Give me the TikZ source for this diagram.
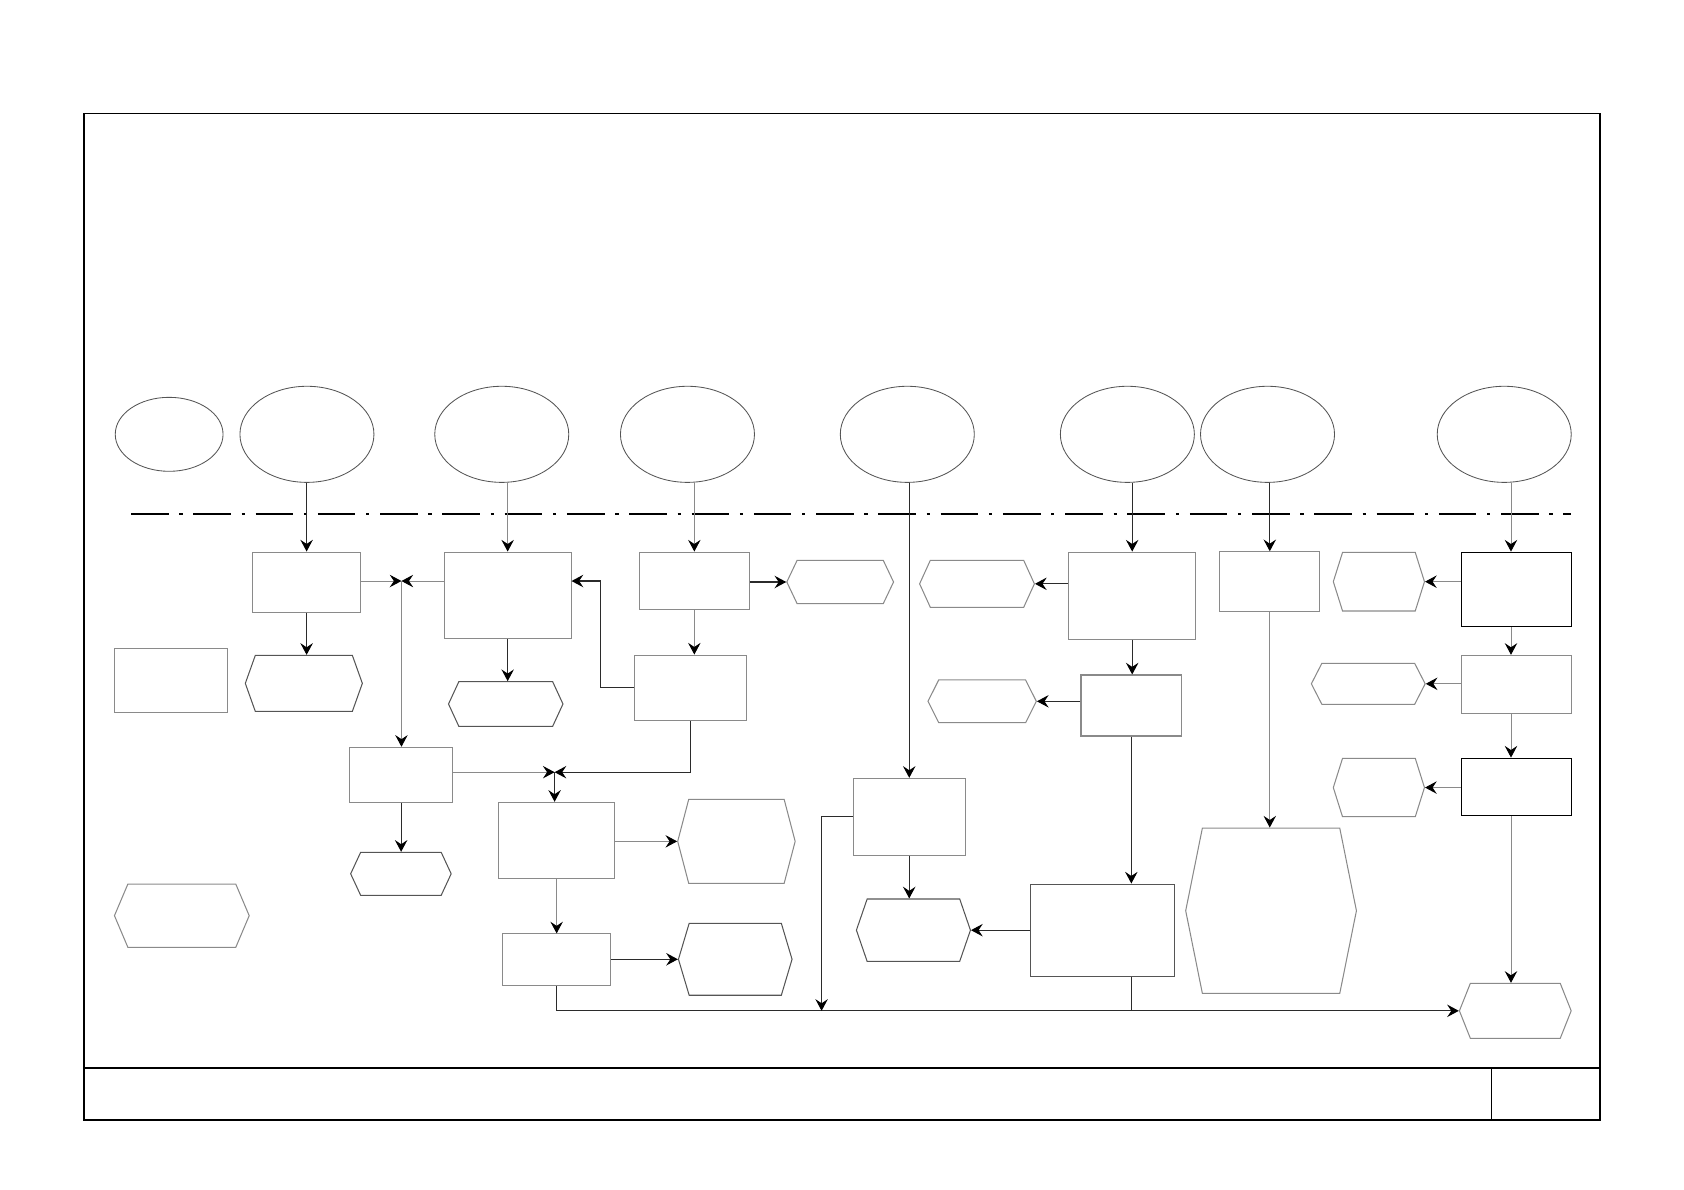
\documentclass[tikz,border=0pt]{standalone}
\usepackage{tikz}
\usetikzlibrary{arrows.meta,positioning,calc,shapes.geometric,shapes.symbols}
\definecolor{tplline}{HTML}{2B2B2B}
\definecolor{tplgray}{HTML}{8A8A8A}
\definecolor{tplrim}{HTML}{555555}

\begin{document}
\begin{tikzpicture}[x=0.02cm, y=-0.02cm, inner sep=0pt,
  >={Stealth[length=6.2pt,width=6.6pt,inset=2.2pt,color=black]},
  evt/.style={draw=tplrim, ellipse, line width=0.45pt, minimum width=2.496cm, minimum height=1.79cm},
  fbox/.style={draw=tplgray, rectangle, line width=0.55pt},
  fboxk/.style={draw=black, rectangle, line width=0.8pt},
  hexa/.style={draw=tplgray, signal, signal to=east and west, line width=0.55pt},
  wire/.style={draw=tplline, line width=0.6pt},
  conn/.style={wire, ->},
  connlt/.style={draw=tplgray, line width=0.5pt, ->}]
  \useasboundingbox (0,0) rectangle (1568,1108);
  \draw[line width=0.8pt] (78,105.5) rectangle (1490,1043);
  \draw[line width=0.8pt] (78,994.5) -- (1490,994.5);
  \draw[line width=0.6pt] (1388.5,994.5) -- (1388.5,1043);
  \draw[line width=1.1pt, dash pattern=on 0.70cm off 0.20cm on 0.06cm off 0.20cm]
    (122,478.6) -- (1463,478.6);

  \node[evt, minimum width=2.008cm, minimum height=1.378cm] (e0) at (157.5,404.4) {};
  \node[evt] (e1) at (285.8,404.4) {};
  \node[evt] (e2) at (467.2,404.4) {};
  \node[evt] (e3) at (640.1,404.4) {};
  \node[evt] (e4) at (844.8,404.4) {};
  \node[evt] (e5) at (1049.7,404.4) {};
  \node[evt] (e6) at (1180.2,404.4) {};
  \node[evt] (e7) at (1400.6,404.4) {};

  \node[fbox, minimum width=2.11cm, minimum height=1.192cm]
    (leg) at (159.3,633.4) {};
  \node[fbox, minimum width=2.01cm, minimum height=1.124cm]
    (f1) at (285.5,542.1) {};
  \node[fbox, minimum width=2.36cm, minimum height=1.614cm]
    (f2) at (472.7,554.4) {};
  \node[fbox, minimum width=2.048cm, minimum height=1.066cm]
    (f3) at (646.5,540.7) {};
  \node[fbox, minimum width=2.09cm, minimum height=1.222cm]
    (f3b) at (643,640.5) {};
  \node[fbox, minimum width=1.926cm, minimum height=1.024cm]
    (f4) at (373.5,721.4) {};
  \node[fbox, minimum width=2.374cm, minimum height=1.626cm]
    (f5) at (1054.2,554.7) {};
  \node[fbox, minimum width=1.876cm, minimum height=1.136cm]
    (f5b) at (1053.4,656.9) {};
  \node[fbox, minimum width=1.858cm, minimum height=1.11cm]
    (f6) at (1182.3,541.5) {};
  \node[fbox, minimum width=2.082cm, minimum height=1.434cm]
    (f7) at (846.6,760.6) {};
  \node[fbox, minimum width=2.16cm, minimum height=1.422cm]
    (f8) at (518.3,782.6) {};
  \node[fbox, minimum width=2.016cm, minimum height=0.964cm]
    (f9) at (518.3,893.7) {};
  \node[fboxk, minimum width=2.056cm, minimum height=1.384cm]
    (f10) at (1412,548.9) {};
  \node[fbox, minimum width=2.056cm, minimum height=1.08cm]
    (f10b) at (1412,637.2) {};
  \node[fboxk, minimum width=2.056cm, minimum height=1.068cm]
    (f12) at (1412,732.8) {};
  \node[fbox, draw=tplrim, minimum width=2.68cm, minimum height=1.726cm]
    (f11) at (1026.5,866.3) {};

  \node[hexa, minimum width=2.51cm, minimum height=1.178cm, signal pointer angle=134]
    (h0) at (169.3,852.6) {};
  \node[hexa, draw=tplrim, minimum width=2.18cm, minimum height=1.042cm, signal pointer angle=140.7]
    (h1) at (282.9,636.3) {};
  \node[hexa, draw=tplrim, minimum width=2.132cm, minimum height=0.832cm, signal pointer angle=130.4]
    (h2) at (470.9,655.5) {};
  \node[hexa, minimum width=1.988cm, minimum height=0.808cm, signal pointer angle=129.2]
    (h3) at (782.3,541.9) {};
  \node[hexa, draw=tplrim, minimum width=1.872cm, minimum height=0.8cm, signal pointer angle=130.2]
    (h4) at (373.3,813.6) {};
  \node[hexa, minimum width=2.138cm, minimum height=0.876cm, signal pointer angle=131]
    (h5) at (909.7,543.6) {};
  \node[hexa, minimum width=2.018cm, minimum height=0.796cm, signal pointer angle=126.7]
    (h5b) at (914.5,653) {};
  \node[hexa, minimum width=3.18cm, minimum height=3.08cm, signal pointer angle=157.2]
    (h6) at (1183.5,848) {};
  \node[hexa, draw=tplrim, minimum width=2.124cm, minimum height=1.162cm, signal pointer angle=142]
    (h7) at (850.5,866.1) {};
  \node[hexa, minimum width=2.188cm, minimum height=1.566cm, signal pointer angle=150.6]
    (h8) at (685.7,783.4) {};
  \node[hexa, draw=tplrim, minimum width=2.116cm, minimum height=1.34cm, signal pointer angle=146.8]
    (h9) at (684.6,893.2) {};
  \node[hexa, minimum width=1.698cm, minimum height=1.092cm, signal pointer angle=145]
    (h10) at (1283.9,541.6) {};
  \node[hexa, minimum width=2.12cm, minimum height=0.764cm, signal pointer angle=125.7]
    (h11) at (1274,636.7) {};
  \node[hexa, minimum width=1.698cm, minimum height=1.086cm, signal pointer angle=145]
    (h13) at (1283.9,733.3) {};
  \node[hexa, minimum width=2.082cm, minimum height=1.024cm, signal pointer angle=136.6]
    (h12) at (1410.9,941.2) {};

  \coordinate (j1) at (373.8,541);
  \coordinate (j2) at (516.4,719);
  \coordinate (k1) at (559,541);
  \coordinate (k2) at (765,941.2);
  \coordinate (c7) at (1406.9,0);

  \draw[conn] (e1.south -| f1.north) -- (f1.north);
  \draw[conn] (f1.south) -- (f1.south |- h1.north);
  \draw[connlt] (f1.east |- j1) -- (j1);
  \draw[connlt] (f2.west |- j1) -- (j1);
  \draw[connlt] (j1) -- (j1 |- f4.north);
  \draw[connlt] (e2.south -| f2.north) -- (f2.north);
  \draw[conn] (f2.south) -- (f2.south |- h2.north);
  \draw[conn] (f3b.west) -| (k1) -- (f2.east |- k1);
  \draw[connlt] (e3.south -| f3.north) -- (f3.north);
  \draw[conn] (f3.east |- h3.west) -- (h3.west);
  \draw[connlt] (f3.south) -- (f3.south |- f3b.north);
  \draw[connlt] (f4.east |- j2) -- (j2);
  \draw[conn] (f3b.south) |- (j2);
  \draw[conn] (j2) -- (j2 |- f8.north);
  \draw[conn] (f4.south) -- (f4.south |- h4.north);
  \draw[connlt] (f8.east |- h8.west) -- (h8.west);
  \draw[connlt] (f8.south) -- (f8.south |- f9.north);
  \draw[conn] (f9.east |- h9.west) -- (h9.west);
  \draw[conn] (f9.south) |- (h12.west);
  \draw[conn] (e4.south -| f7.north) -- (f7.north);
  \draw[conn] (f7.south) -- (f7.south |- h7.north);
  \draw[conn] (f7.west) -| (k2);
  \draw[conn] (e5.south -| f5.north) -- (f5.north);
  \draw[conn] (f5.west |- h5.east) -- (h5.east);
  \draw[conn] (f5.south) -- (f5.south |- f5b.north);
  \draw[conn] (f5b.west |- h5b.east) -- (h5b.east);
  \draw[conn] (f5b.south) -- (f5b.south |- f11.north);
  \draw[conn] (f11.west |- h7.east) -- (h7.east);
  \draw[wire] (f5b.south |- f11.south) -- (f5b.south |- k2);
  \draw[conn] (e6.south -| f6.north) -- (f6.north);
  \draw[connlt] (f6.south) -- (f6.south |- h6.north);
  \draw[connlt] (c7 |- e7.south) -- (c7 |- f10.north);
  \draw[connlt] (f10.west |- h10.east) -- (h10.east);
  \draw[connlt] (c7 |- f10.south) -- (c7 |- f10b.north);
  \draw[connlt] (f10b.west |- h11.east) -- (h11.east);
  \draw[connlt] (c7 |- f10b.south) -- (c7 |- f12.north);
  \draw[connlt] (f12.west |- h13.east) -- (h13.east);
  \draw[connlt] (c7 |- f12.south) -- (c7 |- h12.north);
\end{tikzpicture}
\end{document}
